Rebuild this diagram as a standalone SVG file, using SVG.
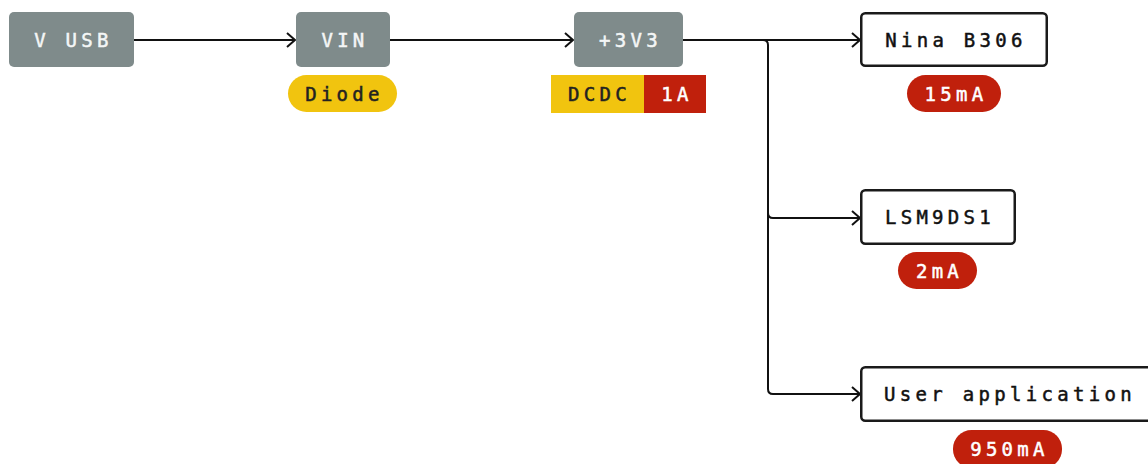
<svg xmlns="http://www.w3.org/2000/svg" width="1148" height="464" viewBox="0 0 1148 464">
<style>
text{font-family:"DejaVu Sans Mono","Liberation Mono",monospace;font-size:19px;letter-spacing:4.3px;text-anchor:middle;stroke-width:0.5px}
.g{fill:#7f8b8b}
.gt{fill:#f4f6f6;stroke:#f4f6f6}
.w{fill:#fff;stroke:#1a1a1a;stroke-width:2.5}
.wt{fill:#111;stroke:#111}
.y{fill:#f1c40f}
.yt{fill:#222;stroke:#222}
.r{fill:#c0200c}
.rt{fill:#fff;stroke:#fff}
.c{fill:none;stroke:#111;stroke-width:2}
</style>
<defs>
<marker id="a" markerUnits="userSpaceOnUse" markerWidth="12" markerHeight="18" refX="10" refY="8" orient="auto">
<path d="M2,1 L10,8 L2,15" fill="none" stroke="#111" stroke-width="2"/>
</marker>
</defs>
<g id="connectors">
<path class="c" d="M134,40 H295" marker-end="url(#a)"/>
<path class="c" d="M390,40 H573" marker-end="url(#a)"/>
<path class="c" d="M683,40 H860" marker-end="url(#a)"/>
<path class="c" d="M763,40 Q768,40 768,45 V389 Q768,394 773,394 H860" marker-end="url(#a)"/>
<path class="c" d="M768,213 Q768,218 773,218 H860" marker-end="url(#a)"/>
</g>
<g id="vusb">
<rect class="g" x="9" y="12" width="125" height="55" rx="5"/>
<text class="gt" x="73.5" y="47">V USB</text>
</g>
<g id="vin">
<rect class="g" x="296" y="12" width="94" height="55" rx="5"/>
<text class="gt" x="345" y="47">VIN</text>
</g>
<g id="diode">
<rect class="y" x="288" y="75" width="109" height="37" rx="18.5"/>
<text class="yt" x="344.5" y="101">Diode</text>
</g>
<g id="v3v3">
<rect class="g" x="574" y="12" width="109" height="55" rx="5"/>
<text class="gt" x="630.5" y="47">+3V3</text>
</g>
<g id="dcdc">
<rect class="y" x="551" y="75" width="93" height="38"/>
<rect class="r" x="644" y="75" width="62" height="38"/>
<text class="yt" x="599.5" y="101">DCDC</text>
<text class="rt" x="677" y="101">1A</text>
</g>
<g id="nina">
<rect class="w" x="861.25" y="13.25" width="185.5" height="52.5" rx="4"/>
<text class="wt" x="956" y="47">Nina B306</text>
</g>
<g id="nina-current">
<rect class="r" x="907" y="75" width="94" height="37" rx="18.5"/>
<text class="rt" x="956" y="101">15mA</text>
</g>
<g id="lsm">
<rect class="w" x="861.25" y="190.25" width="153.5" height="53.5" rx="4"/>
<text class="wt" x="940" y="224">LSM9DS1</text>
</g>
<g id="lsm-current">
<rect class="r" x="898" y="252" width="79" height="37" rx="18.5"/>
<text class="rt" x="939.5" y="278">2mA</text>
</g>
<g id="user">
<rect class="w" x="861.25" y="367.25" width="300" height="53.5" rx="4"/>
<text class="wt" x="1010" y="401">User application</text>
</g>
<g id="user-current">
<rect class="r" x="953" y="430" width="109" height="38" rx="18.5"/>
<text class="rt" x="1009.5" y="456">950mA</text>
</g>
</svg>
